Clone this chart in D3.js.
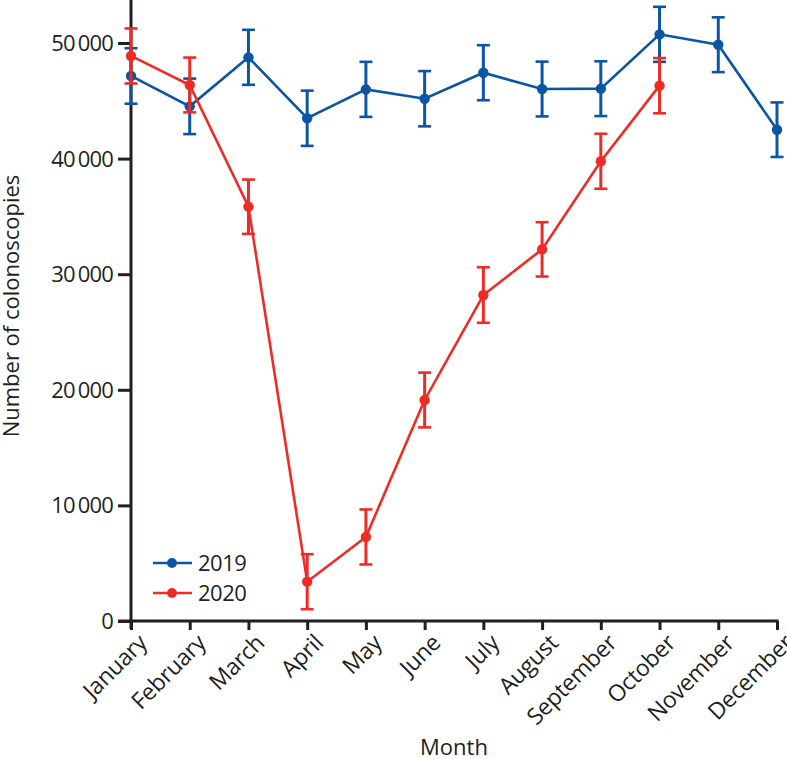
<!DOCTYPE html>
<html><head><meta charset="utf-8">
<script src="https://cdn.jsdelivr.net/npm/d3@7"></script>
<style>
html,body{margin:0;padding:0;background:#fff;}
svg{display:block;font-family:"Open Sans",sans-serif;}
</style></head>
<body>
<svg id="chart" width="787" height="759"></svg>
<script>
const months = ["January","February","March","April","May","June","July","August","September","October","November","December"];
const values2019 = [47150,44520,48760,43490,45990,45180,47430,46020,46050,50750,49850,42500];
const err2019 =    [2400, 2400, 2380, 2390, 2380, 2390, 2380, 2370, 2370, 2380, 2370, 2360];
const values2020 = [48880,46370,35840,3400,7270,19120,28200,32150,39770,46310];
const err2020 =    [2380, 2370, 2350, 2380,2380,2370, 2400, 2350, 2380, 2390];
const yTicks = [0,10000,20000,30000,40000,50000];
const seriesNames = ["2019","2020"];
const colors = ["#0b55a3","#ee2b25"];

const svg = d3.select("#chart");
const x = d3.scalePoint().domain(months).range([131,777]);
const y = d3.scaleLinear().domain([0,53720]).range([621,0]);
const fmt = v => v === 0 ? "0" : d3.format(",")(v).replace(/,/g,"\u2009");

const axisColor = "#231f20";
// Y axis
const yAxis = svg.append("g").attr("transform","translate(131,0)")
  .call(d3.axisLeft(y).tickValues(yTicks).tickSize(13).tickPadding(5).tickFormat(fmt));
yAxis.select(".domain").remove();
yAxis.selectAll(".tick line").attr("stroke",axisColor).attr("stroke-width",3);
yAxis.selectAll(".tick text").attr("font-size",22).attr("fill",axisColor)
  .attr("font-family","Open Sans").attr("letter-spacing","-0.8px").attr("dy","0.34em");
svg.append("line").attr("x1",131).attr("x2",131).attr("y1",0).attr("y2",629)
  .attr("stroke",axisColor).attr("stroke-width",3);

// X axis
const xAxis = svg.append("g").attr("transform","translate(0,621)")
  .call(d3.axisBottom(x).tickSize(9).tickFormat(""));
xAxis.select(".domain").remove();
xAxis.selectAll(".tick line").attr("stroke",axisColor).attr("stroke-width",3);
svg.append("line").attr("x1",118).attr("x2",778.5).attr("y1",621).attr("y2",621)
  .attr("stroke",axisColor).attr("stroke-width",3);
svg.append("g").selectAll("text").data(months).join("text")
  .attr("transform",d=>`translate(${x(d)+6},${633}) rotate(-45)`)
  .attr("text-anchor","end").attr("dy","0.7em")
  .attr("font-size",23).attr("fill",axisColor).attr("letter-spacing","-0.3px")
  .text(d=>d);

// Axis titles
svg.append("text").attr("x",454).attr("y",755).attr("text-anchor","middle")
  .attr("font-size",22).attr("fill",axisColor).text("Month");
svg.append("text").attr("transform","translate(19,306) rotate(-90)")
  .attr("text-anchor","middle").attr("font-size",22).attr("fill",axisColor)
  .text("Number of colonoscopies");

// Series
const series = [
  {name:seriesNames[0], vals:values2019, errs:err2019, color:colors[0]},
  {name:seriesNames[1], vals:values2020, errs:err2020, color:colors[1]}
];
const line = d3.line().x(d=>x(d.m)).y(d=>y(d.v));
series.forEach(s=>{
  const pts = s.vals.map((v,i)=>({m:months[i], v, e:s.errs[i]}));
  const g = svg.append("g");
  const eb = g.selectAll("g.eb").data(pts).join("g");
  eb.append("line").attr("x1",d=>x(d.m)).attr("x2",d=>x(d.m))
    .attr("y1",d=>y(d.v+d.e)).attr("y2",d=>y(d.v-d.e))
    .attr("stroke",s.color).attr("stroke-width",3);
  [1,-1].forEach(sg=>{
    eb.append("line").attr("x1",d=>x(d.m)-6.5).attr("x2",d=>x(d.m)+6.5)
      .attr("y1",d=>y(d.v+sg*d.e)).attr("y2",d=>y(d.v+sg*d.e))
      .attr("stroke",s.color).attr("stroke-width",2.6);
  });
  g.append("path").datum(pts).attr("d",line).attr("fill","none")
    .attr("stroke",s.color).attr("stroke-width",2.6);
  g.selectAll("circle").data(pts).join("circle")
    .attr("cx",d=>x(d.m)).attr("cy",d=>y(d.v)).attr("r",5.2).attr("fill",s.color);
});

// Legend
const leg = svg.append("g");
series.forEach((s,i)=>{
  const ly = 563 + i*30;
  leg.append("line").attr("x1",153).attr("x2",192).attr("y1",ly).attr("y2",ly)
    .attr("stroke",s.color).attr("stroke-width",2.6);
  leg.append("circle").attr("cx",172).attr("cy",ly).attr("r",5).attr("fill",s.color);
  leg.append("text").attr("x",198).attr("y",ly).attr("dy","0.36em")
    .attr("font-size",22).attr("fill",axisColor).attr("letter-spacing","-0.5px").text(s.name);
});
</script>
</body></html>
